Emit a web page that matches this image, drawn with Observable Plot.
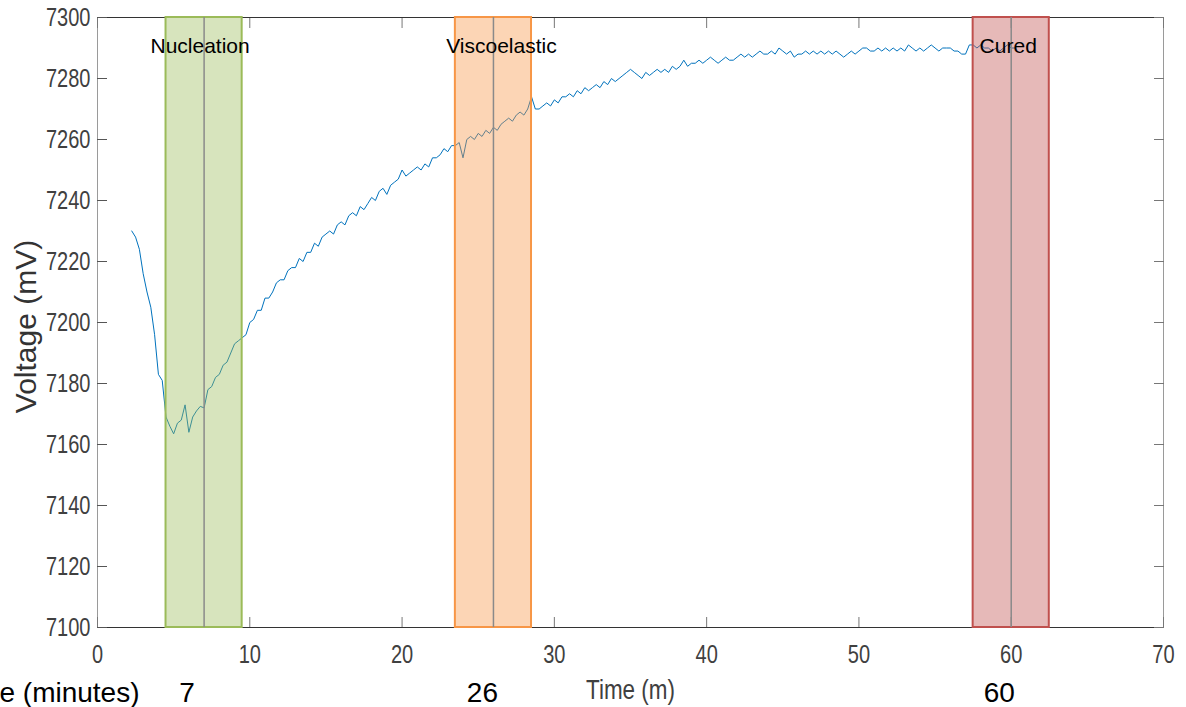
<!DOCTYPE html>
<html>
<head>
<meta charset="utf-8">
<script src="https://cdn.jsdelivr.net/npm/d3@7"></script>
<script src="https://cdn.jsdelivr.net/npm/@observablehq/plot@0.6"></script>
<style>
  html, body { margin: 0; padding: 0; background: #fff; overflow: hidden; }
  #chart { width: 1186px; height: 707px; }
</style>
</head>
<body>
<div id="chart"></div>
<script>
// Time axis of the trace: first sample (min) and sampling interval (min)
const tStart = 2.25;
const tStep = 0.25;
// Voltage (mV), one value per sample
const voltage = [
  7230, 7228, 7224, 7216, 7210, 7205, 7196, 7183, 7181, 7169,
  7166, 7163.5, 7167, 7168, 7173, 7164, 7169, 7171, 7172.5, 7172,
  7178, 7179, 7182, 7183, 7186, 7187, 7190, 7193, 7194, 7195,
  7196, 7200, 7201, 7204, 7204, 7208, 7208, 7210, 7213, 7214,
  7214, 7217, 7218, 7218, 7221, 7220, 7223, 7223, 7226, 7225,
  7228, 7229, 7230, 7229, 7232, 7233, 7232, 7235, 7236, 7235,
  7238, 7237, 7239, 7241, 7240, 7243, 7244, 7242, 7245, 7246,
  7247, 7250, 7248, 7249, 7250, 7251, 7250, 7252, 7251, 7254,
  7254, 7255, 7257, 7256, 7258, 7258, 7259, 7254, 7260, 7261,
  7260, 7262, 7261, 7263, 7262, 7264, 7263, 7265, 7266, 7267,
  7266, 7268, 7269, 7268, 7270, 7274, 7270, 7270, 7271, 7272,
  7271, 7273, 7272, 7274, 7274, 7275, 7274, 7276, 7275, 7277,
  7276, 7277, 7278, 7277, 7279, 7278, 7280, 7279, 7280, 7281,
  7282, 7283, 7282, 7281, 7280, 7282, 7281, 7282, 7283, 7282,
  7283, 7282, 7284, 7283, 7284, 7286, 7284, 7285, 7285, 7286,
  7285, 7286, 7287, 7286, 7285, 7286, 7287, 7286, 7286, 7287,
  7288, 7287, 7288, 7287, 7288, 7289, 7288, 7288, 7289, 7288,
  7290, 7289, 7288, 7289, 7287, 7288, 7288, 7289, 7288, 7289,
  7288, 7289, 7288, 7289, 7288, 7289, 7288, 7287, 7288, 7289,
  7288, 7289, 7290, 7290, 7289, 7289, 7290, 7289, 7290, 7289,
  7290, 7289, 7290, 7289, 7291, 7290, 7289, 7290, 7289, 7290,
  7291, 7290, 7289, 7290, 7290, 7290, 7289, 7289, 7288, 7288,
  7291, 7291, 7290, 7291, 7290, 7290, 7289, 7290, 7289, 7290,
  7291, 7290, 7290
];

// Stage bands
const stageNames = ["Nucleation", "Viscoelastic", "Cured"];
const stageCenters = [7, 26, 60];
const stageStart = [4.5, 23.5, 57.5];
const stageEnd = [9.5, 28.5, 62.5];
const stageColors = ["#9bbb59", "#f79646", "#c0504d"];

// Axes
const xTicks = [0, 10, 20, 30, 40, 50, 60, 70];
const yTicks = [7100, 7120, 7140, 7160, 7180, 7200, 7220, 7240, 7260, 7280, 7300];
const xDomain = [0, 70];
const yDomain = [7100, 7300];
const xLabel = "Time (m)";
const yLabel = "Voltage (mV)";
const rowLabel = "Time (minutes)";

// styling offsets (pixels) for the per-stage texts
const nameDx = [-4, 8, -3];
const timeDx = [-17, -11, -12];

const trace = voltage.map((v, i) => ({t: tStart + i * tStep, v}));
const bands = stageNames.map((name, i) => ({
  name, center: stageCenters[i], x1: stageStart[i], x2: stageEnd[i],
  color: stageColors[i], y1: yDomain[0], y2: yDomain[1]
}));

const arial = "'Liberation Sans', Arial, sans-serif";

const chart = Plot.plot({
  width: 1186,
  height: 707,
  marginLeft: 97,
  marginRight: 23,
  marginTop: 17,
  marginBottom: 80,
  style: {background: "#fff", overflow: "visible"},
  x: {domain: xDomain},
  y: {domain: yDomain},
  marks: [
    // box
    Plot.ruleX([xDomain[0], xDomain[1]], {stroke: "#9a9a9a", strokeWidth: 1}),
    Plot.ruleY([yDomain[0], yDomain[1]], {stroke: "#333", strokeWidth: 1}),
    // inward ticks
    Plot.axisY(yTicks, {anchor: "left", tickSize: -10, tickFormat: () => "", stroke: "#555"}),
    Plot.axisY(yTicks, {anchor: "right", tickSize: -10, tickFormat: () => "", stroke: "#777"}),
    Plot.axisX(xTicks, {anchor: "bottom", tickSize: -10, tickFormat: () => "", stroke: "#777"}),
    Plot.axisX(xTicks, {anchor: "top", tickSize: -10, tickFormat: () => "", stroke: "#777"}),
    // tick labels
    Plot.axisY(yTicks, {anchor: "left", tickSize: 0, tickPadding: 7, fontSize: 25,
      fontFamily: arial, fill: "#404040", label: null, tickFormat: d => String(d),
      className: "narrow"}),
    Plot.axisX(xTicks, {anchor: "bottom", tickSize: 0, tickPadding: 18, fontSize: 25,
      fontFamily: arial, fill: "#404040", label: null, className: "narrow"}),
    // trace
    Plot.line(trace, {x: "t", y: "v", stroke: "#0072BD", strokeWidth: 1}),
    // bands
    Plot.rect(bands, {x1: "x1", x2: "x2", y1: "y1", y2: "y2", fill: "color", fillOpacity: 0.4,
      stroke: "color", strokeWidth: 2}),
    Plot.ruleX(bands, {x: "center", y1: "y1", y2: "y2", stroke: "#8a8a8a", strokeWidth: 1.5}),
    ...bands.map((b, i) => Plot.text([b], {x: "center", y: 7290, text: "name", fill: "#000",
      fontSize: 21, fontFamily: arial, dx: nameDx[i], dy: -1.5})),
    // axis titles
    Plot.text([yLabel], {frameAnchor: "left", textAnchor: "middle", lineAnchor: "middle",
      rotate: -90, dx: -71, dy: 4, fontSize: 30, fontFamily: arial, fill: "#333"}),
    Plot.text([xLabel], {frameAnchor: "bottom", lineAnchor: "middle", dy: 63, fontSize: 28,
      fontFamily: arial, fill: "#404040", className: "narrow"}),
    // bottom row of stage times
    Plot.text([rowLabel], {x: xDomain[0], y: yDomain[0], dx: 42, dy: 66, textAnchor: "end",
      fontSize: 28, fontFamily: arial, fill: "#000"}),
    ...bands.map((b, i) => Plot.text([b], {x: "center", y: "y1", text: d => String(d.center),
      dx: timeDx[i], dy: 66, fontSize: 28, fontFamily: arial, fill: "#000"}))
  ]
});
document.getElementById("chart").appendChild(chart);

// condensed look for tick labels and the x title (MATLAB-style narrow font)
chart.querySelectorAll(".narrow text").forEach(t => {
  const w = t.getComputedTextLength();
  if (w > 0) {
    t.setAttribute("textLength", (w * 0.8).toFixed(1));
    t.setAttribute("lengthAdjust", "spacingAndGlyphs");
  }
});
</script>
</body>
</html>
